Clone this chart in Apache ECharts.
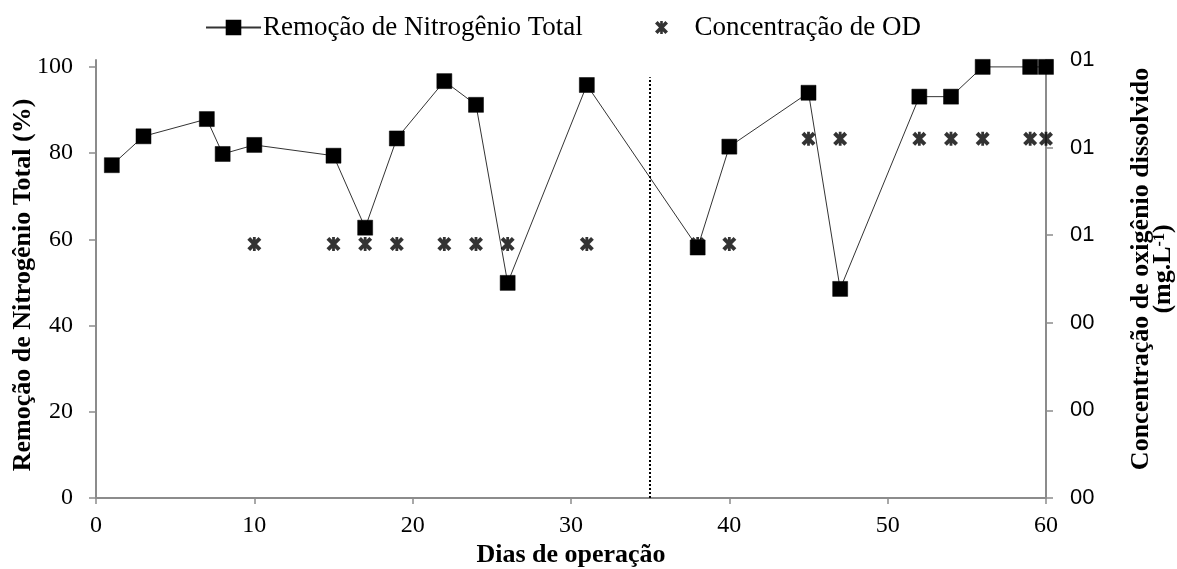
<!DOCTYPE html>
<html>
<head>
<meta charset="utf-8">
<script src="https://cdn.jsdelivr.net/npm/echarts@6/dist/echarts.min.js"></script>
<style>
  html, body { margin: 0; padding: 0; background: #fff; }
  #chart { width: 1177px; height: 569px; }
</style>
</head>
<body>
<div id="chart"></div>
<script>
// Operating days with total nitrogen removal (%)
const removalDays = [1, 3, 7, 8, 10, 15, 17, 19, 22, 24, 26, 31, 38, 40, 45, 47, 52, 54, 56, 59, 60];
const removalPct  = [77.2, 83.9, 87.9, 79.8, 81.9, 79.4, 62.7, 83.4, 96.7, 91.2, 49.9, 95.8, 58.1, 81.5, 94.0, 48.5, 93.1, 93.1, 100, 100, 100];

// Dissolved oxygen readings (right axis)
const odDays   = [10, 15, 17, 19, 22, 24, 26, 31, 38, 40, 45, 47, 52, 54, 56, 59, 60];
const odValues = [0.58, 0.58, 0.58, 0.58, 0.58, 0.58, 0.58, 0.58, 0.58, 0.58, 0.82, 0.82, 0.82, 0.82, 0.82, 0.82, 0.82];

// Left axis tick values, day of the operating phase change
const leftTicks = [0, 20, 40, 60, 80, 100];
const phaseChangeDay = 35;
const phaseLineTop = 97.6;

const serif = '"Liberation Serif", "Times New Roman", serif';
const sans = '"Liberation Sans", Arial, sans-serif';
const axisGrey = '#8c8c8c';

const removalData = removalDays.map((d, i) => [d, removalPct[i]]);
const odData = odDays.map((d, i) => [d, odValues[i]]);

// filled asterisk marker: two diagonal bars and a vertical bar
const starPath = 'path://M0,2 L2,0 L10,8 L8,10 Z M8,0 L10,2 L2,10 L0,8 Z M4,0 L6,0 L6,10 L4,10 Z';

const chart = echarts.init(document.getElementById('chart'), null, { renderer: 'canvas' });

chart.setOption({
  animation: false,
  backgroundColor: '#fff',
  grid: { left: 96, right: 131, top: 60, bottom: 71, containLabel: false, outerBoundsMode: 'none' },
  legend: [
    {
      left: 200, top: 9,
      itemWidth: 55, itemHeight: 17, itemGap: 0,
      textStyle: { fontFamily: serif, fontSize: 27, color: '#000', padding: [0, 0, 0, -3] },
      data: ['Remoção de Nitrogênio Total']
    },
    {
      left: 650, top: 9,
      itemWidth: 14, itemHeight: 13, itemGap: 0,
      textStyle: { fontFamily: serif, fontSize: 27, color: '#000', padding: [0, 0, 0, 21] },
      data: ['Concentração de OD']
    }
  ],
  xAxis: {
    type: 'value',
    min: 0, max: 60, interval: 10,
    name: 'Dias de operação',
    nameLocation: 'middle',
    nameGap: 44,
    nameMoveOverlap: false,
    nameTextStyle: { fontFamily: serif, fontSize: 26, fontWeight: 'bold', color: '#000' },
    axisLine: { show: true, lineStyle: { color: axisGrey, width: 2 } },
    axisTick: { show: true, length: 6, lineStyle: { color: axisGrey, width: 1.5 } },
    axisLabel: { fontFamily: serif, fontSize: 24, color: '#000', margin: 16 },
    splitLine: { show: false }
  },
  yAxis: [
    {
      type: 'value',
      position: 'left',
      min: 0, max: 101.6,
      name: 'Remoção de Nitrogênio Total (%)',
      nameLocation: 'middle',
      nameRotate: 90,
      nameGap: 60,
      nameMoveOverlap: false,
      nameTextStyle: { fontFamily: serif, fontSize: 26, fontWeight: 'bold', color: '#000', padding: [0, 12, 0, 0] },
      axisLine: { show: true, lineStyle: { color: axisGrey, width: 2 } },
      axisTick: { show: true, length: 7, customValues: leftTicks, lineStyle: { color: axisGrey, width: 1.5 } },
      axisLabel: { fontFamily: serif, fontSize: 24, color: '#000', margin: 23, customValues: leftTicks },
      splitLine: { show: false }
    },
    {
      type: 'value',
      position: 'right',
      min: 0, max: 1, interval: 0.2,
      name: '{t|Concentração de oxigênio dissolvido}\n{t|(mg.L}{s|-1}{t|)}',
      nameLocation: 'middle',
      nameRotate: 90,
      nameGap: 84,
      nameMoveOverlap: false,
      nameTextStyle: {
        padding: [0, 0, 0, 20],
        rich: {
          t: { fontFamily: serif, fontSize: 26, fontWeight: 'bold', color: '#000', lineHeight: 22 },
          s: { fontFamily: serif, fontSize: 16, fontWeight: 'bold', color: '#000', verticalAlign: 'top', lineHeight: 22, padding: [0, 0, 5, 0] }
        }
      },
      axisLine: { show: true, lineStyle: { color: axisGrey, width: 2 } },
      axisTick: { show: true, length: 7, lineStyle: { color: axisGrey, width: 1.5 } },
      axisLabel: {
        fontFamily: sans, fontSize: 22, color: '#000', margin: 24,
        formatter: v => String(Math.round(v)).padStart(2, '0')
      },
      splitLine: { show: false }
    }
  ],
  series: [
    {
      name: 'Remoção de Nitrogênio Total',
      type: 'line',
      yAxisIndex: 0,
      data: removalData,
      symbol: 'rect',
      symbolSize: 15,
      lineStyle: { color: '#333', width: 1 },
      itemStyle: { color: '#000', borderColor: '#000', borderWidth: 0.5 },
      z: 3,
      markLine: {
        silent: true,
        symbol: 'none',
        label: { show: false },
        lineStyle: { color: '#000', type: [2, 2], width: 2 },
        data: [[{ coord: [phaseChangeDay, 0] }, { coord: [phaseChangeDay, phaseLineTop] }]]
      }
    },
    {
      name: 'Concentração de OD',
      type: 'scatter',
      yAxisIndex: 1,
      data: odData,
      symbol: starPath,
      symbolSize: [14, 14],
      itemStyle: { color: '#000', borderWidth: 0 },
      z: 4
    }
  ]
});
</script>
</body>
</html>
